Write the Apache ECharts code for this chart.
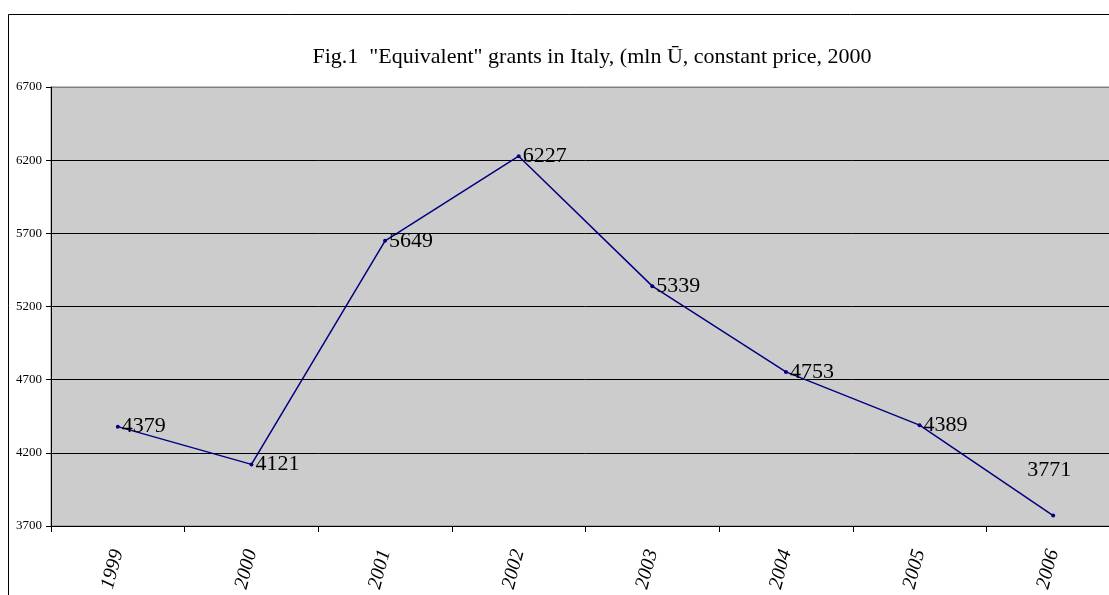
<!DOCTYPE html>
<html><head><meta charset="utf-8">
<script src="https://cdn.jsdelivr.net/npm/echarts@6/dist/echarts.min.js"></script>
<style>html,body{margin:0;padding:0;background:#fff;overflow:hidden}#c{width:1130px;height:595px}</style>
</head><body><div id="c"></div>
<script>
const years = ['1999','2000','2001','2002','2003','2004','2005','2006'];
const grants = [4379, 4121, 5649, 6227, 5339, 4753, 4389, 3771];
const titleText = 'Fig.1  "Equivalent" grants in Italy, (mln \u016A, constant price, 2000';

const chart = echarts.init(document.getElementById('c'));
const serif = '"Liberation Serif", "Times New Roman", serif';
chart.setOption({
  animation: false,
  backgroundColor: '#fff',
  title: {
    text: titleText, left: 587, top: 41, textAlign: 'center',
    textStyle: {fontFamily: serif, fontSize: 22, fontWeight: 'normal', color: '#000'}
  },
  graphic: [{
    type: 'rect', shape: {x: 8.5, y: 14.5, width: 1300, height: 800},
    style: {fill: 'none', stroke: '#000', lineWidth: 1}, z: 100, silent: true
  }],
  grid: {left: 51, right: 10, top: 87, bottom: 69, show: true,
    backgroundColor: '#CCCCCC', borderColor: '#808080', borderWidth: 1},
  xAxis: {
    type: 'category', data: years, boundaryGap: true,
    axisLine: {lineStyle: {color: '#000', width: 1}},
    axisTick: {show: true, length: 6, lineStyle: {color: '#000'}},
    axisLabel: {rotate: 75, margin: 24, fontFamily: serif, fontSize: 20, fontStyle: 'italic', color: '#000'}
  },
  yAxis: {
    type: 'value', min: 3700, max: 6700, interval: 500,
    axisLine: {show: true, lineStyle: {color: '#000', width: 1}},
    axisTick: {show: true, length: 5, lineStyle: {color: '#000'}},
    axisLabel: {fontFamily: serif, fontSize: 13, color: '#000', margin: 9, formatter: v => String(v)},
    splitLine: {show: true, lineStyle: {color: ['#000','#000','#000','#000','#000','#000','#808080'], width: 1}}
  },
  series: [{
    type: 'line', data: grants.map((v, i) => i === grants.length - 1 ?
      {value: v, label: {position: 'top', distance: 32, offset: [-4, 0]}} : v),
    symbol: 'circle', symbolSize: 4,
    lineStyle: {color: '#000080', width: 1.5},
    itemStyle: {color: '#000080'},
    label: {show: true, position: 'right', distance: 2,
      fontFamily: serif, fontSize: 22, color: '#000'}
  }]
});
</script></body></html>
